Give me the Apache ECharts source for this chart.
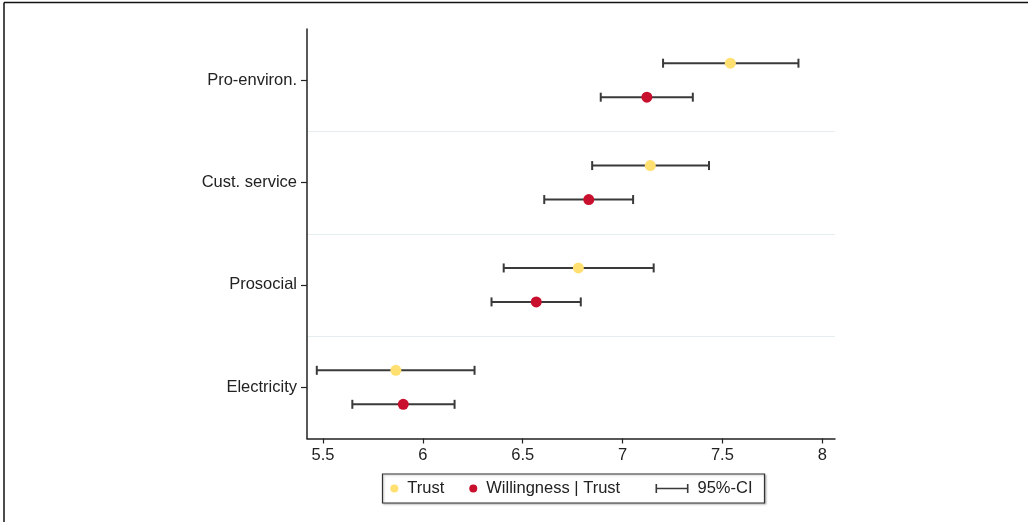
<!DOCTYPE html>
<html>
<head>
<meta charset="utf-8">
<script src="https://cdn.jsdelivr.net/npm/echarts@6/dist/echarts.min.js"></script>
<style>
html,body{margin:0;padding:0;background:#fff;}
#chart{width:1028px;height:522px;}
</style>
</head>
<body>
<div id="chart"></div>
<script>
// Categories, bottom to top
const categories = ['Electricity', 'Prosocial', 'Cust. service', 'Pro-environ.'];
// Trust: point estimate and 95% CI
const trustMean = [5.865, 6.779, 7.139, 7.540];
const trustLow  = [5.469, 6.405, 6.848, 7.203];
const trustHigh = [6.259, 7.156, 7.433, 7.881];
// Willingness | Trust: point estimate and 95% CI
const willMean = [5.902, 6.568, 6.831, 7.122];
const willLow  = [5.647, 6.344, 6.608, 6.891];
const willHigh = [6.159, 6.791, 7.053, 7.352];
// X tick labels
const xTicks = [5.5, 6, 6.5, 7, 7.5, 8];

const FONT = 'Liberation Sans, Arial, sans-serif';
const TXT = '#222';
const BAR = '#3a3a3a';
const OFFSET = 0.166; // fraction of category band

function errRender(sign) {
  return function (params, api) {
    const c = api.value(0);
    const lo = api.coord([api.value(1), c]);
    const hi = api.coord([api.value(2), c]);
    const band = api.size([0, 1])[1];
    const y = lo[1] + sign * band * OFFSET;
    const cap = 4.5;
    return {
      type: 'group',
      children: [
        { type: 'line', shape: { x1: lo[0], y1: y, x2: hi[0], y2: y }, style: { stroke: BAR, lineWidth: 2 } },
        { type: 'line', shape: { x1: lo[0], y1: y - cap, x2: lo[0], y2: y + cap }, style: { stroke: BAR, lineWidth: 2 } },
        { type: 'line', shape: { x1: hi[0], y1: y - cap, x2: hi[0], y2: y + cap }, style: { stroke: BAR, lineWidth: 2 } }
      ]
    };
  };
}

const chart = echarts.init(document.getElementById('chart'), null, { renderer: 'canvas' });
chart.setOption({
  backgroundColor: '#fff',
  animation: false,
  textStyle: { fontFamily: FONT },
  grid: { left: 307, right: 193, top: 29, bottom: 83.5, containLabel: false },
  graphic: [
    { type: 'line', shape: { x1: 4, y1: 2.5, x2: 1028, y2: 2.5 }, style: { stroke: '#111', lineWidth: 1.5 }, z: 100 },
    { type: 'line', shape: { x1: 4, y1: 2.5, x2: 4, y2: 522 }, style: { stroke: '#111', lineWidth: 1.5 }, z: 100 },
    { type: 'rect', shape: { x: 382.5, y: 474, width: 382, height: 29 },
      style: { fill: '#fff', stroke: '#333', lineWidth: 1.2, shadowColor: 'rgba(0,0,0,0.25)', shadowBlur: 2, shadowOffsetX: 1, shadowOffsetY: 1 }, z: -1 }
  ],
  legend: [
    {
      left: 390.3, top: 480, padding: 0,
      itemWidth: 8, itemHeight: 8, itemGap: 25,
      textStyle: { fontSize: 16.5, color: TXT, fontFamily: FONT, padding: [0, 0, 0, 4] },
      data: [{ name: 'Trust', icon: 'circle' }, { name: 'Willingness | Trust', icon: 'circle' }]
    },
    {
      left: 655.5, top: 480, padding: 0,
      itemWidth: 33, itemHeight: 9,
      textStyle: { fontSize: 16.5, color: TXT, fontFamily: FONT, padding: [0, 0, 0, 4] },
      data: [{ name: '95%-CI', icon: 'path://M0,0H1.6V3.8H31.4V0H33V9H31.4V5.2H1.6V9H0Z' }]
    }
  ],
  xAxis: {
    type: 'value',
    min: 5.42, max: 8.064,
    axisLine: { show: true, lineStyle: { color: TXT, width: 1.5 } },
    axisTick: { show: true, length: 5, lineStyle: { color: TXT, width: 1.2 }, customValues: xTicks },
    axisLabel: { color: TXT, fontSize: 16.5, fontFamily: FONT, margin: 8, customValues: xTicks },
    splitLine: { show: false }
  },
  yAxis: {
    type: 'category',
    data: categories,
    boundaryGap: true,
    axisLine: { show: true, lineStyle: { color: TXT, width: 1.5 } },
    axisTick: { show: true, alignWithLabel: true, length: 6, lineStyle: { color: TXT, width: 1.2 } },
    axisLabel: { color: TXT, fontSize: 16.5, fontFamily: FONT, margin: 10 },
    splitLine: { show: true, showMinLine: false, showMaxLine: false, lineStyle: { color: '#e4edf0', width: 1.2 } }
  },
  series: [
    {
      name: '95%-CI', type: 'custom',
      renderItem: errRender(-1),
      itemStyle: { color: BAR },
      encode: { x: [1, 2], y: 0 },
      data: categories.map((c, i) => [i, trustLow[i], trustHigh[i]]),
      z: 1
    },
    {
      name: '95%-CI', type: 'custom',
      renderItem: errRender(1),
      itemStyle: { color: BAR },
      encode: { x: [1, 2], y: 0 },
      data: categories.map((c, i) => [i, willLow[i], willHigh[i]]),
      z: 1
    },
    {
      name: 'Trust', type: 'scatter',
      symbol: 'circle', symbolSize: 11, symbolOffset: [0, -17],
      itemStyle: { color: '#ffe070', opacity: 1 },
      data: trustMean.map((v, i) => [v, i]),
      z: 3
    },
    {
      name: 'Willingness | Trust', type: 'scatter',
      symbol: 'circle', symbolSize: 11, symbolOffset: [0, 17],
      itemStyle: { color: '#c8102e', opacity: 1 },
      data: willMean.map((v, i) => [v, i]),
      z: 3
    }
  ]
});
</script>
</body>
</html>
